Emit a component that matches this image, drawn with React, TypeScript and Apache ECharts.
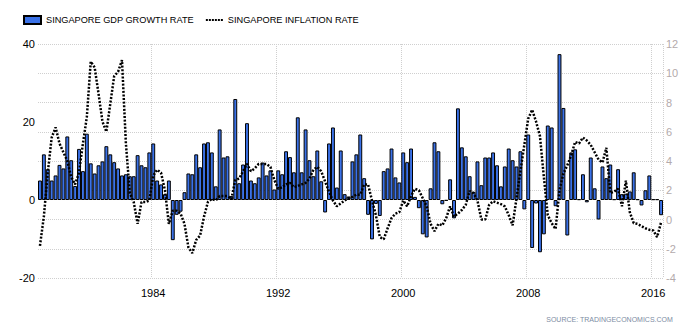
import React, { useEffect, useRef } from "react";
import * as echarts from "echarts";

// Quarterly categories: 1976Q4 .. 2016Q3
const startYear = 1976;
const startQuarter = 4;
const quarterCount = 160;
const categories: string[] = [];
for (let i = 0; i < quarterCount; i++) {
  const q0 = startQuarter - 1 + i;
  const y = startYear + Math.floor(q0 / 4);
  const q = (q0 % 4) + 1;
  categories.push(`${y}Q${q}`);
}

const labeledYears = ["1984", "1992", "2000", "2008", "2016"];

// GDP growth rate (QoQ annualized, %), left axis
const gdpGrowth = [
  5.0, 11.7, 7.9, 5.0, 6.3, 9.0, 8.1, 16.3, 10.2, 3.6,
  13.1, 7.4, 17.0, 9.4, 6.8, 8.9, 9.9, 13.8, 11.7, 9.7,
  8.1, 6.3, 6.6, 6.1, 6.1, 11.5, 8.9, 8.4, 12.2, 14.5,
  5.0, 4.0, 1.5, 5.0, -10.3, -3.8, -3.0, 2.0, 6.8, 6.6,
  11.7, 8.4, 14.5, 14.8, 12.2, 3.5, 18.1, 10.9, 11.2, 1.0,
  25.9, 4.3, 9.1, 19.7, 5.0, 4.3, 5.8, 9.6, 6.3, 7.6,
  2.7, 7.6, 6.6, 12.5, 11.0, 7.1, 21.2, 7.1, 18.1, 10.2,
  6.1, 12.7, 4.8, -3.2, 14.5, 18.6, 3.2, 12.7, 1.5, 0.9,
  9.9, 11.7, 16.8, 5.6, -3.8, -10.1, -1.0, -4.1, 7.4, 8.1,
  13.2, 5.8, 4.5, 12.2, 9.7, 13.2, 0.8, -2.1, -8.8, -9.6,
  3.0, 14.8, 12.5, -1.1, -0.2, 5.3, -4.7, 23.5, 13.5, 11.2,
  6.1, 2.1, 9.9, 3.8, 10.9, 10.9, 12.2, 8.9, 3.5, 8.6,
  13.2, 10.2, 8.6, 12.5, -2.4, 16.8, -12.3, -0.9, -13.4, -8.8,
  19.1, 18.6, -1.6, 37.4, 23.6, -9.1, 12.2, 13.0, 0.2, 6.6,
  -0.6, 10.9, 3.0, -5.0, 8.6, 5.6, 9.1, 0.2, 7.9, 1.5,
  1.6, 2.2, 7.1, 0.2, -1.4, 2.5, 6.3, 0.2, 0.2, -3.9,
];

// Inflation rate (%), right axis, read per quarter
const inflation = [
  -1.8, 0.2, 3.2, 5.6, 6.3, 5.2, 4.6, 4.0, 2.9, 2.4,
  3.2, 5.2, 7.0, 10.8, 10.4, 8.6, 6.7, 6.0, 7.9, 9.8,
  10.1, 10.9, 5.2, 1.8, 1.2, -0.3, 1.2, 1.2, 1.3, 3.0,
  3.4, 3.2, 2.0, -0.3, 0.6, 0.6, 0.4, -0.3, -1.9, -2.3,
  -1.4, -1.1, 0.2, 1.2, 1.4, 1.3, 1.6, 1.6, 1.6, 1.4,
  2.7, 2.8, 3.3, 3.8, 3.3, 3.5, 3.8, 3.8, 3.8, 3.6,
  2.7, 2.1, 2.2, 2.4, 2.5, 2.2, 2.3, 2.4, 2.5, 2.8,
  3.4, 3.6, 3.3, 2.6, 1.9, 1.3, 0.9, 1.1, 1.3, 1.45,
  1.55, 1.7, 1.7, 2.4, 2.4, 1.3, 0.3, -1.2, -1.35, -0.6,
  0.1, 0.4, 0.5, 1.3, 0.9, 1.6, 2.1, 2.0, 1.45, 0.9,
  -0.3, -0.8, -0.3, -0.4, 0.1, 0.9, 0.2, 0.4, 0.65, 1.0,
  1.95, 1.8, 1.3, 0.0, 0.0, 1.0, 1.25, 1.15, 1.05, 0.9,
  0.3, -0.4, 1.45, 3.3, 5.1, 6.9, 7.5, 6.7, 5.7, 2.9,
  0.3, -0.25, -0.65, 2.0, 3.15, 3.7, 4.4, 5.3, 5.2, 5.6,
  5.4, 5.1, 4.6, 4.1, 3.9, 4.9, 1.8, 1.9, 2.1, 0.9,
  2.65, 0.5, -0.25, -0.3, -0.45, -0.6, -0.7, -0.75, -1.2, -0.2,
];

const leftTicks = { min: -20, max: 40, interval: 20 };
const rightTicks = { min: -4, max: 12, interval: 2 };

const FONT = "'Liberation Sans', Arial, sans-serif";
const DOTS_ICON =
  "path://M0 0H2V2H0Z M3 0H5V2H3Z M6 0H8V2H6Z M9 0H11V2H9Z M12 0H14V2H12Z M15 0H17V2H15Z";

function isLabeled(_idx: number, value: string) {
  return value.endsWith("Q1") && labeledYears.includes(value.slice(0, 4));
}

export default function App() {
  const ref = useRef<HTMLDivElement>(null);

  useEffect(() => {
    if (!ref.current) return;
    const chart = echarts.init(ref.current, null, { renderer: "svg" });
    chart.setOption({
      animation: false,
      backgroundColor: "#fff",
      textStyle: { fontFamily: FONT },
      legend: {
        left: 18,
        top: 10,
        itemWidth: 17,
        itemHeight: 8,
        itemGap: 12,
        textStyle: { fontSize: 9.2, color: "#000", fontFamily: FONT },
        data: [
          { name: "SINGAPORE GDP GROWTH RATE", icon: "rect" },
          {
            name: "SINGAPORE INFLATION RATE",
            icon: DOTS_ICON,
            itemStyle: { color: "#000", borderWidth: 0 },
          },
        ],
      },
      grid: { left: 38, right: 31, top: 44, bottom: 50, containLabel: false },
      xAxis: {
        type: "category",
        data: categories,
        boundaryGap: true,
        axisLine: { show: false },
        axisTick: { show: false },
        axisLabel: {
          interval: isLabeled,
          formatter: (v: string) => v.slice(0, 4),
          fontSize: 11,
          color: "#000",
          margin: 9,
          fontFamily: FONT,
        },
        splitLine: {
          show: true,
          interval: isLabeled,
          lineStyle: { color: "#cfcfcf", type: "dotted", width: 1 },
        },
      },
      yAxis: [
        {
          type: "value",
          position: "left",
          min: leftTicks.min,
          max: leftTicks.max,
          interval: leftTicks.interval,
          axisLine: { show: false },
          axisTick: { show: false },
          splitLine: { show: false },
          axisLabel: { fontSize: 11, color: "#000", margin: 3, fontFamily: FONT },
        },
        {
          type: "value",
          position: "right",
          min: rightTicks.min,
          max: rightTicks.max,
          interval: rightTicks.interval,
          axisLine: { show: false },
          axisTick: { show: false },
          splitLine: {
            show: true,
            lineStyle: { color: "#cfcfcf", type: "dotted", width: 1 },
          },
          axisLabel: { fontSize: 11, color: "#b3aaab", margin: 3, fontFamily: FONT },
        },
      ],
      series: [
        {
          name: "SINGAPORE GDP GROWTH RATE",
          type: "bar",
          yAxisIndex: 0,
          data: gdpGrowth,
          barCategoryGap: "0%",
          itemStyle: { color: "#3b72e8", borderColor: "#000", borderWidth: 1 },
        },
        {
          name: "SINGAPORE INFLATION RATE",
          type: "line",
          yAxisIndex: 1,
          data: inflation,
          symbol: "none",
          lineStyle: { color: "#000", width: 2.5, type: [2, 1.6] },
          itemStyle: { color: "#000" },
          z: 3,
        },
      ],
      graphic: [
        {
          type: "text",
          right: 21,
          top: 316,
          style: {
            text: "SOURCE: TRADINGECONOMICS.COM",
            fill: "#7d8ca3",
            font: `7px ${FONT}`,
          },
        },
      ],
    });
    return () => chart.dispose();
  }, []);

  return (
    <div
      ref={ref}
      style={{ position: "fixed", left: 0, top: 0, width: 694, height: 328, background: "#fff" }}
    />
  );
}
